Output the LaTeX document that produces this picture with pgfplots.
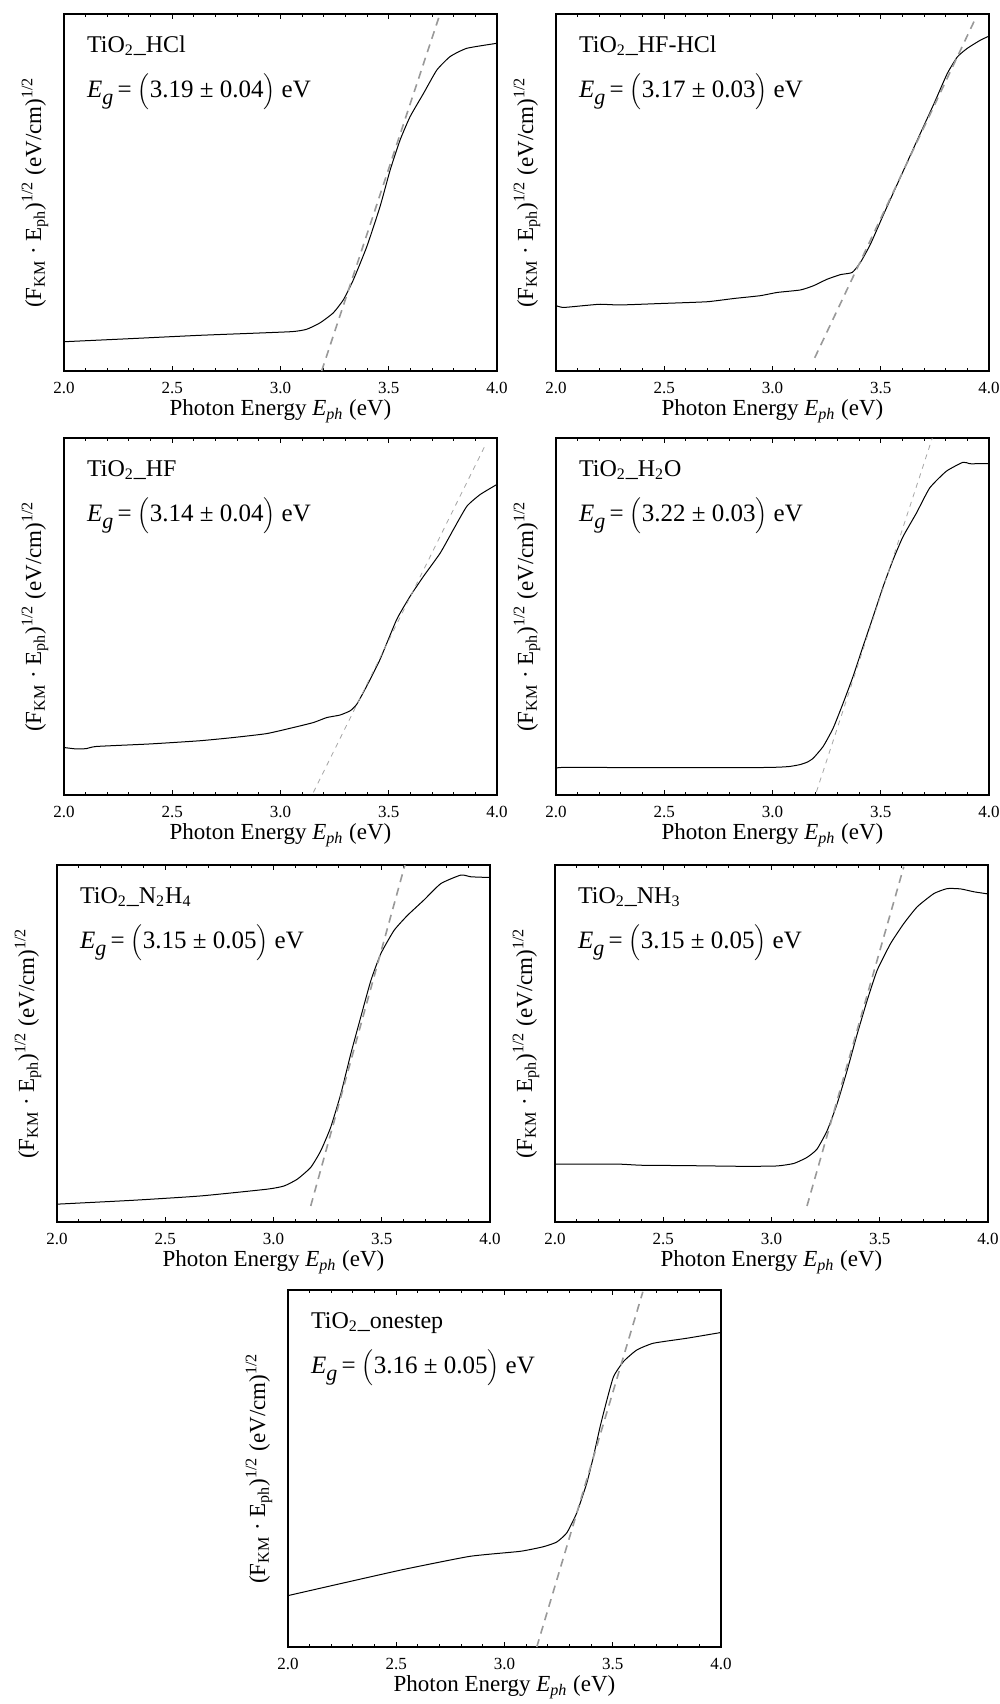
\documentclass[border=0pt]{standalone}
\usepackage{fontspec}
\setmainfont{Liberation Serif}
\usepackage{pgfplots}
\pgfplotsset{compat=1.18}
\pgfplotsset{panel/.style={
  anchor=north west, scale only axis, width=216.5pt, height=178.5pt,
  xmin=2, xmax=4, ymin=0, ymax=1,
  xtick={2,2.5,3,3.5,4}, minor x tick num=4, xtick pos=both, xticklabel pos=bottom, tick align=inside,
  ytick=\empty,
  major tick length=2.6pt, minor tick length=1.4pt,
  xticklabel style={font=\fontsize{8.5}{9}\selectfont, anchor=north, yshift=-2pt},
  /pgf/number format/.cd, fixed, fixed zerofill, precision=1, assume math mode=true, /pgfplots/.cd,
  xlabel={Photon Energy \textit{E\textsubscript{ph}} (eV)},
  ylabel={(F\textsubscript{KM} · E\textsubscript{ph})\textsuperscript{1/2} (eV/cm)\textsuperscript{1/2}},
  xlabel style={font=\fontsize{11.5}{13}\selectfont, at={(axis description cs:0.5,0)}, anchor=center, yshift=-20pt},
  ylabel style={font=\fontsize{11.5}{13}\selectfont, at={(axis description cs:-0.067,0.5)}, anchor=center},
  axis line style={line width=0.6pt},
  every tick/.style={black, line width=0.5pt},
}}
\pgfplotsset{curve/.style={black, line width=0.5pt, smooth, tension=0.3},
  fit/.style={gray!80, line width=0.8pt, dash pattern=on 4pt off 3pt},
  fitthin/.style={gray!70, line width=0.4pt, dash pattern=on 2.5pt off 2.5pt}}
\newcommand{\nm}[1]{\node[anchor=base west, font=\fontsize{12}{14}\selectfont] at (rel axis cs:0.037,0.893) {#1};}
\newcommand{\eg}[1]{\node[anchor=base west, font=\fontsize{12.5}{14}\selectfont] at (rel axis cs:0.037,0.765) {\textit{E\raisebox{-0.55ex}{\fontsize{11}{11}\selectfont g}}\,= $\Big($#1$\Big)$ eV};}
\begin{document}
\begin{tikzpicture}
\useasboundingbox (0,0) rectangle (500pt,-852pt);
% Panel 1
\begin{axis}[panel, at={(32pt,-7pt)}]
\addplot[curve] coordinates {(2.0,0.082)(2.319,0.091)(2.628,0.100)(3.044,0.110)(3.121,0.117)(3.183,0.135)(3.244,0.163)(3.291,0.200)(3.337,0.256)(3.399,0.349)(3.460,0.461)(3.507,0.564)(3.553,0.648)(3.599,0.713)(3.661,0.778)(3.722,0.843)(3.784,0.881)(3.861,0.904)(4.0,0.918)};
\addplot[fit] coordinates {(3.19,0)(3.735,0.997)};
\nm{TiO\textsubscript{2}\_HCl}
\eg{3.19 ± 0.04}
\end{axis}
% Panel 2
\begin{axis}[panel, at={(278pt,-7pt)}]
\addplot[curve] coordinates {(2.0,0.183)(2.034,0.178)(2.126,0.183)(2.204,0.187)(2.296,0.185)(2.481,0.189)(2.697,0.194)(2.820,0.203)(2.944,0.211)(3.021,0.220)(3.129,0.227)(3.190,0.239)(3.252,0.257)(3.314,0.270)(3.368,0.276)(3.406,0.304)(3.453,0.356)(3.514,0.440)(3.591,0.543)(3.668,0.646)(3.746,0.749)(3.807,0.833)(3.854,0.880)(3.900,0.904)(3.961,0.927)(4.0,0.938)};
\addplot[fit] coordinates {(3.195,0.037)(3.938,0.988)};
\nm{TiO\textsubscript{2}\_HF-HCl}
\eg{3.17 ± 0.03}
\end{axis}
% Panel 3
\begin{axis}[panel, at={(32pt,-219pt)}]
\addplot[curve] coordinates {(2.0,0.133)(2.057,0.129)(2.103,0.130)(2.150,0.136)(2.396,0.143)(2.628,0.152)(2.782,0.161)(2.936,0.172)(3.059,0.189)(3.152,0.203)(3.214,0.217)(3.275,0.224)(3.322,0.236)(3.352,0.254)(3.399,0.306)(3.460,0.380)(3.537,0.492)(3.599,0.557)(3.661,0.613)(3.738,0.678)(3.799,0.744)(3.861,0.809)(3.923,0.842)(4.0,0.870)};
\addplot[fitthin] coordinates {(3.152,0.0075)(3.951,0.986)};
\nm{TiO\textsubscript{2}\_HF}
\eg{3.14 ± 0.04}
\end{axis}
% Panel 4
\begin{axis}[panel, at={(278pt,-219pt)}]
\addplot[curve] coordinates {(2.0,0.072)(2.018,0.077)(2.3,0.077)(2.6,0.077)(2.8,0.077)(2.95,0.077)(3.03,0.078)(3.08,0.080)(3.126,0.085)(3.160,0.092)(3.188,0.103)(3.234,0.136)(3.280,0.187)(3.326,0.257)(3.372,0.332)(3.418,0.416)(3.465,0.500)(3.511,0.584)(3.557,0.659)(3.603,0.724)(3.665,0.790)(3.726,0.860)(3.803,0.907)(3.880,0.932)(3.911,0.928)(3.95,0.928)(4.0,0.928)};
\addplot[fitthin] coordinates {(3.203,0.009)(3.738,1.0)};
\nm{TiO\textsubscript{2}\_H\textsubscript{2}O}
\eg{3.22 ± 0.03}
\end{axis}
% Panel 5
\begin{axis}[panel, at={(28.5pt,-432.5pt)}]
\addplot[curve] coordinates {(2.0,0.050)(2.355,0.061)(2.663,0.073)(2.971,0.092)(3.049,0.101)(3.110,0.120)(3.172,0.153)(3.218,0.199)(3.264,0.265)(3.311,0.359)(3.357,0.471)(3.403,0.574)(3.450,0.677)(3.496,0.752)(3.557,0.817)(3.619,0.859)(3.695,0.902)(3.773,0.948)(3.866,0.972)(3.912,0.967)(4.0,0.965)};
\addplot[fit] coordinates {(3.172,0.045)(3.607,1.0)};
\nm{TiO\textsubscript{2}\_N\textsubscript{2}H\textsubscript{4}}
\eg{3.15 ± 0.05}
\end{axis}
% Panel 6
\begin{axis}[panel, at={(277.5pt,-432.5pt)}]
\addplot[curve] coordinates {(2.0,0.162)(2.15,0.162)(2.30,0.162)(2.40,0.159)(2.6,0.158)(2.871,0.156)(3.025,0.157)(3.103,0.164)(3.164,0.181)(3.210,0.204)(3.257,0.256)(3.303,0.331)(3.349,0.424)(3.396,0.527)(3.442,0.621)(3.488,0.705)(3.550,0.780)(3.611,0.836)(3.673,0.883)(3.750,0.920)(3.812,0.934)(3.874,0.933)(3.935,0.925)(4.0,0.919)};
\addplot[fit] coordinates {(3.164,0.045)(3.611,0.995)};
\nm{TiO\textsubscript{2}\_NH\textsubscript{3}}
\eg{3.15 ± 0.05}
\end{axis}
% Panel 7
\begin{axis}[panel, at={(144pt,-645pt)}]
\addplot[curve] coordinates {(2.0,0.144)(2.224,0.175)(2.532,0.217)(2.840,0.254)(3.072,0.268)(3.180,0.281)(3.241,0.294)(3.288,0.320)(3.334,0.376)(3.380,0.459)(3.411,0.534)(3.442,0.618)(3.473,0.692)(3.504,0.758)(3.550,0.800)(3.611,0.832)(3.688,0.851)(3.843,0.865)(4.0,0.881)};
\addplot[fit] coordinates {(3.149,0)(3.639,0.995)};
\nm{TiO\textsubscript{2}\_onestep}
\eg{3.16 ± 0.05}
\end{axis}
\end{tikzpicture}
\end{document}
